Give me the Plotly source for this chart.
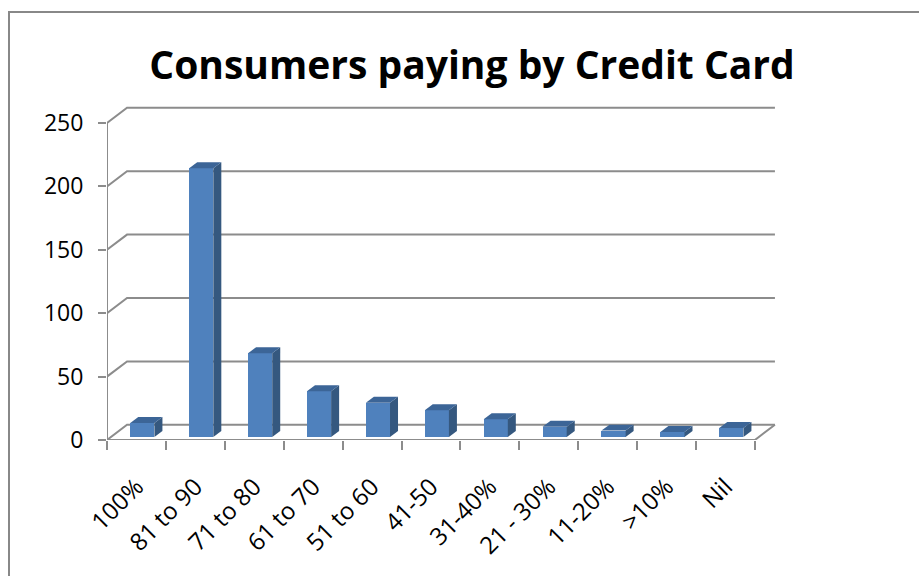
import plotly.graph_objects as go

categories = ["100%", "81 to 90", "71 to 80", "61 to 70", "51 to 60", "41-50",
              "31-40%", "21 - 30%", "11-20%", ">10%", "Nil"]
values = [11, 212, 66, 36, 27, 21, 14, 8, 5, 4, 7]
y_ticks = [0, 50, 100, 150, 200, 250]
title_text = "Consumers paying by Credit Card"

# 3-D look parameters (in axis units)
WALL_DX, WALL_DY = 0.34, 12.0      # back wall offset
BAR_SHIFT, BAR_W = 0.10, 0.41      # bar plane shift and width
BAR_BASE = 2.4                     # bar plane lifted above front floor edge
DEP_DX, DEP_DY = 0.136, 4.7        # bar depth

FRONT = "#4F81BD"
SIDE = "#35587F"
TOP = "#3C6597"
GRID = "#8C8C8C"
FONT = "Open Sans"

n = len(categories)
fig = go.Figure()
fig.add_trace(go.Bar(
    x=categories, y=values, base=BAR_BASE,
    width=BAR_W, offset=BAR_SHIFT - BAR_W / 2,
    marker=dict(color=FRONT, line=dict(width=0)),
    hoverinfo="x+y",
))

shapes = []
xl_edge, xr_edge = -0.5, n - 0.5
# back wall gridlines + left wall diagonals
for v in y_ticks:
    path = (f"M {xl_edge},{v} L {xl_edge + WALL_DX},{v + WALL_DY} "
            f"L {xr_edge + WALL_DX},{v + WALL_DY}")
    shapes.append(dict(type="path", path=path, xref="x", yref="y",
                       line=dict(color=GRID, width=2), layer="below"))
# floor front edge + right diagonal
shapes.append(dict(type="path",
                   path=f"M {xl_edge},0 L {xr_edge},0 L {xr_edge + WALL_DX},{WALL_DY}",
                   xref="x", yref="y", line=dict(color=GRID, width=2), layer="below"))
# front vertical axis
shapes.append(dict(type="line", x0=xl_edge, x1=xl_edge, y0=0, y1=y_ticks[-1],
                   xref="x", yref="y", line=dict(color=GRID, width=2), layer="below"))

# bar side and top faces
for i, v in enumerate(values):
    xl = i + BAR_SHIFT - BAR_W / 2
    xr = i + BAR_SHIFT + BAR_W / 2
    b = BAR_BASE
    t = BAR_BASE + v
    side = (f"M {xr},{b} L {xr + DEP_DX},{b + DEP_DY} L {xr + DEP_DX},{t + DEP_DY} "
            f"L {xr},{t} Z")
    top = (f"M {xl},{t} L {xl + DEP_DX},{t + DEP_DY} L {xr + DEP_DX},{t + DEP_DY} "
           f"L {xr},{t} Z")
    shapes.append(dict(type="path", path=side, xref="x", yref="y",
                       fillcolor=SIDE, line=dict(width=0), layer="above"))
    shapes.append(dict(type="path", path=top, xref="x", yref="y",
                       fillcolor=TOP, line=dict(width=0), layer="above"))

# outer chart border (extends past the right/bottom edges of the picture)
L, T, W, H = 107, 100, 673, 340
def px_to_paper_x(px):
    return (px - L) / W
def px_to_paper_y(py):
    return (T + H - py) / H
shapes.append(dict(type="rect", xref="paper", yref="paper",
                   x0=px_to_paper_x(9), x1=px_to_paper_x(940),
                   y0=px_to_paper_y(600), y1=px_to_paper_y(12),
                   line=dict(color="#888888", width=2), fillcolor="rgba(0,0,0,0)",
                   layer="below"))

fig.update_layout(
    width=919, height=576,
    margin=dict(l=L, r=919 - L - W, t=T, b=576 - T - H, pad=0),
    paper_bgcolor="white", plot_bgcolor="white",
    showlegend=False,
    font=dict(family=FONT, color="black", size=21),
    title=dict(text=f"<b>{title_text}</b>", xref="container", yref="container",
               x=472 / 919, y=1 - 65 / 576, xanchor="center", yanchor="middle",
               font=dict(family=FONT, size=39, color="black")),
    shapes=shapes,
    bargap=0,
)
fig.update_xaxes(
    type="category", categoryorder="array", categoryarray=categories,
    range=[-0.5, -0.5 + W / 58.9],
    tickson="boundaries", ticks="outside", ticklen=9, tickwidth=2, tickcolor=GRID,
    tickangle=-45, showgrid=False, showline=False, zeroline=False,
    ticklabelstandoff=27,
    tickfont=dict(family=FONT, size=24, color="black"),
)
fig.update_yaxes(
    range=[0, H / 1.268], tickvals=y_ticks, ticktext=[str(v) for v in y_ticks],
    ticks="outside", ticklen=8, tickwidth=2, tickcolor=GRID,
    showgrid=False, showline=False, zeroline=False,
    ticklabelstandoff=10,
    tickfont=dict(family=FONT, size=23, color="black"),
)

fig.write_html("out.html")
